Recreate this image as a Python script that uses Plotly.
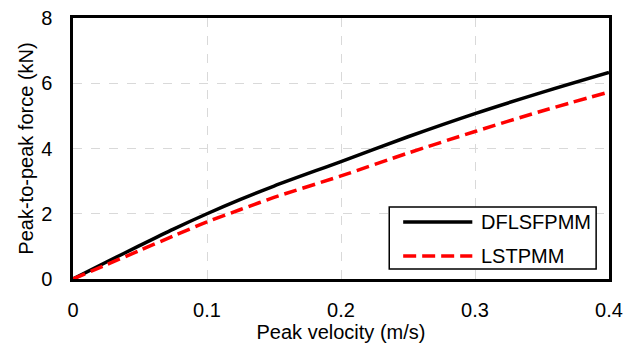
import plotly.graph_objects as go

velocity = [0, 0.025, 0.05, 0.075, 0.1, 0.125, 0.15, 0.2, 0.25, 0.3, 0.35, 0.4]
dflsfpmm = [0, 0.52, 1.03, 1.53, 2.0, 2.44, 2.85, 3.6, 4.36, 5.07, 5.72, 6.33]
lstpmm = [0, 0.44, 0.88, 1.32, 1.75, 2.13, 2.5, 3.16, 3.86, 4.52, 5.15, 5.73]
series_names = ["DFLSFPMM", "LSTPMM"]

black_line = dict(color="black", width=3.5)
red_line = dict(color="#ff0000", width=3.5, dash="13px,6px")

fig = go.Figure()
fig.add_trace(go.Scatter(x=velocity, y=dflsfpmm, mode="lines", name=series_names[0],
                         line=dict(shape="spline", smoothing=0.8, **black_line), showlegend=False))
fig.add_trace(go.Scatter(x=velocity, y=lstpmm, mode="lines", name=series_names[1],
                         line=dict(shape="spline", smoothing=0.8, **red_line), showlegend=False))

axis_common = dict(showline=True, linecolor="black", linewidth=2.5, mirror=True,
                   showgrid=True, gridcolor="#d9d9d9", griddash="dash", gridwidth=1.2,
                   zeroline=False, automargin=False, ticklabeloverflow="allow",
                   ticks="outside", tickcolor="rgba(0,0,0,0)",
                   tickfont=dict(size=20, color="black"))

# Legend drawn as a boxed key in paper coordinates
fig.add_shape(type="rect", xref="paper", yref="paper", x0=0.590, x1=0.976, y0=0.038, y1=0.276,
              line=dict(color="black", width=1.5), fillcolor="white", layer="above")
fig.add_shape(type="line", xref="paper", yref="paper", x0=0.616, x1=0.745, y0=0.218, y1=0.218,
              line=black_line, layer="above")
fig.add_shape(type="line", xref="paper", yref="paper", x0=0.616, x1=0.745, y0=0.088, y1=0.088,
              line=red_line, layer="above")
for name, yy in zip(series_names, [0.218, 0.088]):
    fig.add_annotation(text=name, xref="paper", yref="paper", x=0.757, y=yy,
                       xanchor="left", yanchor="middle", showarrow=False,
                       font=dict(size=20, color="black"))

fig.update_layout(
    width=631, height=337,
    margin=dict(l=64.5, r=30, t=10, b=66),
    paper_bgcolor="white", plot_bgcolor="white",
    font=dict(family="Liberation Sans, Arial", size=20, color="black"),
    xaxis=dict(range=[0, 0.4], dtick=0.1, tickformat=".1~f", ticklen=11,
               title=dict(text="Peak velocity (m/s)", font=dict(size=20), standoff=6),
               **axis_common),
    yaxis=dict(range=[0, 8], dtick=2, ticklen=14,
               title=dict(text="Peak-to-peak force (kN)", font=dict(size=20), standoff=3),
               **axis_common),
    showlegend=False,
)

fig.write_html("out.html")
